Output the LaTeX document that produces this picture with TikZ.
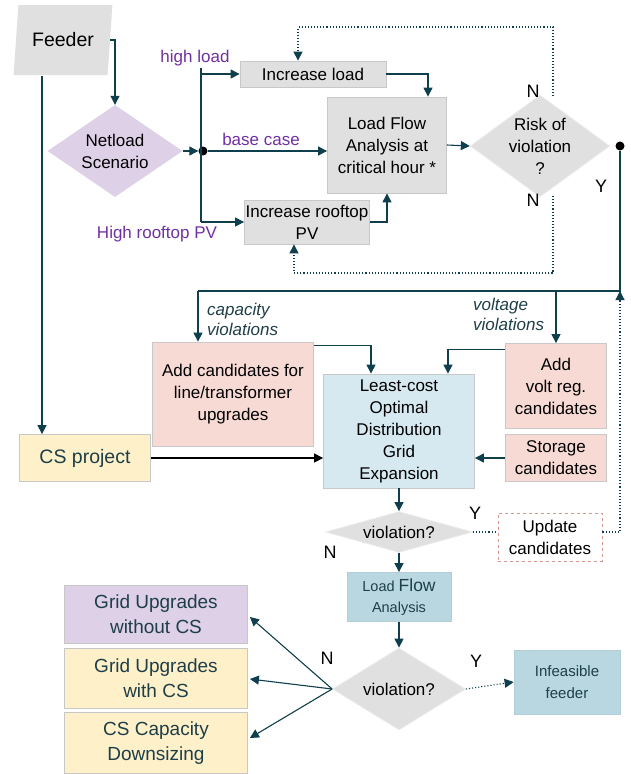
\documentclass[tikz,border=0pt]{standalone}
\usepackage{fontspec}
\setmainfont{Liberation Sans}
\usepackage{xcolor}
\usepackage{tikz}
\usetikzlibrary{calc, shapes.geometric, arrows.meta, positioning}

\definecolor{arrowteal}{HTML}{0F3F4C}
\definecolor{boxgray}{HTML}{E0E0E0}
\definecolor{edgegray}{HTML}{C8C8C8}
\definecolor{lavender}{HTML}{DDD0E7}
\definecolor{pinkbox}{HTML}{F8DAD5}
\definecolor{yellowbox}{HTML}{FEF0C9}
\definecolor{bluebox}{HTML}{D6E9F0}
\definecolor{tealbox}{HTML}{B9D7E1}
\definecolor{labelpurple}{HTML}{7030A0}
\definecolor{dashpink}{HTML}{D9958F}
\definecolor{darktext}{HTML}{1E3E48}

\begin{document}
\begin{tikzpicture}[x=1pt, y=-1pt, >={Triangle[length=9pt,width=9pt]},
    font=\fontsize{17}{22}\selectfont,
    every node/.style={align=center, inner sep=0pt},
    graybox/.style={rectangle, draw=edgegray, fill=boxgray, line width=0.8pt},
    pinkrect/.style={rectangle, draw=edgegray, fill=pinkbox, line width=0.8pt},
    yellowrect/.style={rectangle, draw=edgegray, fill=yellowbox, line width=0.8pt},
    bluerect/.style={rectangle, draw=edgegray, fill=bluebox, line width=0.8pt},
    tealrect/.style={rectangle, draw=tealbox!90!gray, fill=tealbox, line width=0.8pt},
    decision/.style={diamond, draw=white!85!gray, fill=boxgray, line width=0.8pt},
    outbox/.style={rectangle, draw=edgegray, line width=0.8pt, text=darktext,
        font=\fontsize{19}{25}\selectfont, minimum width=183pt},
    flow/.style={->, draw=arrowteal, line width=1.1pt},
    dotflow/.style={->, draw=arrowteal, line width=1.1pt, dotted},
    dotline/.style={draw=arrowteal, line width=1.1pt, dotted},
    plain/.style={draw=arrowteal, line width=1.1pt},
    purplelabel/.style={text=labelpurple},
    violabel/.style={text=darktext, font=\fontsize{17}{20}\selectfont\itshape, align=left, anchor=west},
    yn/.style={font=\fontsize{18}{20}\selectfont}]

    \useasboundingbox (0,0) rectangle (631,774);

    % ---------------------------------------------------------------
    % top part: scenario and screening load flow
    % ---------------------------------------------------------------
    \node[trapezium, trapezium left angle=77, trapezium right angle=103,
          trapezium stretches=true, fill=boxgray, minimum width=99pt,
          minimum height=70pt, font=\fontsize{19.5}{22}\selectfont] (feeder) at (63,40) {Feeder};

    \node[diamond, aspect=1.47, fill=lavender, minimum width=135pt, minimum height=92pt] (netload) at (115,151) {Netload\\Scenario};

    \node[circle, fill=black, minimum size=9pt] (hub) at (203,151) {};
    \coordinate (branchtop) at (201,68);
    \coordinate (branchbot) at (201,222);

    \node[graybox, minimum width=146pt, minimum height=26pt] (incload) at (313,74) {Increase load};
    \node[graybox, minimum width=119pt, minimum height=96pt] (lfa) at (387,145) {Load Flow\\Analysis at\\critical hour *};
    \node[graybox, minimum width=125pt, minimum height=44pt] (incpv) at (307,222) {Increase rooftop\\PV};

    \node[decision, aspect=1.37, minimum width=127pt, minimum height=93pt] (risk) at (540,146) {Risk of\\violation\\?};
    \node[circle, fill=black, minimum size=9pt] (ydot) at (620,146) {};

    \node[purplelabel] (lblhigh) at (195,58) {high load};
    \node[purplelabel] (lblbase) at (261,139) {base case};
    \node[purplelabel] (lblpv) at (157,234) {High rooftop PV};
    \node[yn] (ntop) at (533,91) {N};
    \node[yn] (nbot) at (533,200) {N};
    \node[yn] (yrisk) at (601,186) {Y};

    \draw[flow] (feeder.east) -| (netload.north);
    \draw[flow] (netload.east) -- (hub);
    \draw[plain] (branchtop) -- (branchbot);
    \draw[flow] (branchtop |- incload.west) -- (incload.west);
    \draw[flow] (branchbot) -- (incpv.west);
    \draw[flow] (hub) -- (hub -| lfa.west);
    \draw[flow] (incload.east) -| ($(lfa.north)+(41,0)$);
    \draw[flow] (incpv.east) -| (lfa.south);
    \draw[flow] (lfa.east) -- (risk.west);

    % loops back for N
    \coordinate (looptop) at (298,27);
    \coordinate (loopbot) at (294,273);
    \draw[dotflow] (553,96) |- (looptop) -- (looptop |- incload.north);
    \draw[dotflow] (553,196) |- (loopbot) -- (loopbot |- incpv.south);

    % ---------------------------------------------------------------
    % middle part: candidates and expansion
    % ---------------------------------------------------------------
    \coordinate (bus) at (620,291);
    \coordinate (capdrop) at (198,291);

    \node[pinkrect, minimum width=161pt, minimum height=104pt] (addcap) at (233,394) {Add candidates for\\line/transformer\\upgrades};
    \node[pinkrect, minimum width=101pt, minimum height=85pt] (addvolt) at (556,386) {Add\\volt reg.\\candidates};
    \node[pinkrect, minimum width=101pt, minimum height=47pt] (storage) at (556,458) {Storage\\candidates};
    \node[bluerect, minimum width=151pt, minimum height=114pt] (lcoge) at (399,431) {Least-cost\\Optimal\\Distribution\\Grid\\Expansion};
    \node[yellowrect, minimum width=131pt, minimum height=47pt, text=darktext,
          font=\fontsize{19.5}{22}\selectfont] (csproj) at (85,458) {CS project};

    \node[violabel] (lblcap) at (207,319) {capacity\\violations};
    \node[violabel] (lblvolt) at (473,314) {voltage\\violations};

    \draw[plain] (ydot) -- (bus) -- (capdrop);
    \draw[flow] (capdrop) -- (capdrop |- addcap.north);
    \draw[flow] (addvolt.north |- bus) -- (addvolt.north);
    \draw[flow] ($(addcap.north east)+(0,4)$) -| ($(lcoge.north)+(-28,0)$);
    \draw[flow] ($(addvolt.north west)+(0,6)$) -| ($(lcoge.north)+(49,0)$);
    \draw[flow] (storage.west) -- (storage.west -| lcoge.east);
    \draw[->, line width=1.1pt] (csproj.east) -- (csproj.east -| lcoge.west);

    \coordinate (feederfoot) at (42,76);
    \draw[flow] (feederfoot) -- (feederfoot |- csproj.north);

    \node[decision, aspect=3.6, minimum width=147pt, minimum height=41pt] (viol1) at (399,532) {violation?};
    \node[rectangle, draw=dashpink, dashed, line width=0.9pt, fill=white,
          minimum width=104pt, minimum height=48pt] (update) at (550,537) {Update\\candidates};
    \node[yn] (yviol1) at (475,513) {Y};
    \node[yn] (nviol1) at (330,552) {N};

    \draw[flow] (lcoge.south) -- (viol1.north);
    \draw[dotline] (viol1.east) -- (viol1.east -| update.west);
    \draw[dotflow] (viol1.east -| update.east) -| (bus);

    % ---------------------------------------------------------------
    % bottom part: final check and outcomes
    % ---------------------------------------------------------------
    \node[tealrect, minimum width=104pt, minimum height=49pt, text=darktext,
          font=\fontsize{14.5}{21}\selectfont] (lfa2) at (399,597) {Load {\fontsize{17.5}{21}\selectfont Flow}\\Analysis};
    \node[decision, aspect=1.62, minimum width=133pt, minimum height=82pt] (viol2) at (399,689) {violation?};
    \node[tealrect, minimum width=106pt, minimum height=64pt, text=darktext,
          font=\fontsize{15}{22}\selectfont] (infeas) at (567,682) {Infeasible\\feeder};
    \node[yn] (nviol2) at (327,658) {N};
    \node[yn] (yviol2) at (476,661) {Y};

    \node[outbox, fill=lavender, minimum height=58pt] (gwithout) at (156,614) {Grid Upgrades\\without CS};
    \node[outbox, fill=yellowbox, minimum height=60pt] (gwith) at (156,678) {Grid Upgrades\\with CS};
    \node[outbox, fill=yellowbox, minimum height=61pt] (csdown) at (156,743) {CS Capacity\\Downsizing};

    \draw[flow] (viol1.south) -- (lfa2.north);
    \draw[flow] (lfa2.south) -- (viol2.north);
    \draw[dotflow] (viol2.east) -- (infeas.west);
    \draw[flow] (viol2.west) -- ($(gwithout.east)+(2,3)$);
    \draw[flow] (viol2.west) -- ($(gwith.east)+(2,1)$);
    \draw[flow] (viol2.west) -- ($(csdown.east)+(2,-5)$);

\end{tikzpicture}
\end{document}
